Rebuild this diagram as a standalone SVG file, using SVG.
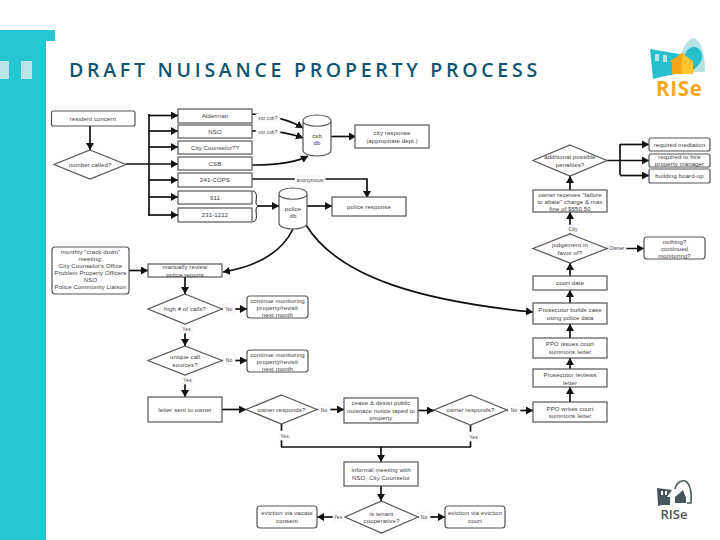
<svg xmlns="http://www.w3.org/2000/svg" width="720" height="540" viewBox="0 0 720 540">
<style>
text{font-family:"Liberation Sans",Arial,sans-serif;font-size:6px;fill:#3a3a3a;text-anchor:middle;letter-spacing:.12px}
.b{fill:#fff;stroke:#555;stroke-width:1.2}
.c{fill:none;stroke:#111;stroke-width:1.7}
.a{marker-end:url(#ah)}
.t{font-family:"Open Sans","Liberation Sans",sans-serif;font-size:19.5px;font-weight:600;fill:#10546f;text-anchor:start;letter-spacing:3.73px}
.l{fill:#fff;stroke:#eee;stroke-width:.7}
.s{font-size:5px}
.r{font-family:"Open Sans","Liberation Sans",sans-serif;font-weight:700;text-anchor:start;letter-spacing:0}
</style>
<defs>
<marker id="ah" markerUnits="userSpaceOnUse" markerWidth="8" markerHeight="9" refX="7" refY="4" orient="auto"><path d="M0 0L7 4L0 8z" fill="#111"/></marker>
</defs>
<g id="band">
<path d="M0 30H55V41H46V540H0z" fill="#26c6d2"/>
<rect x="0" y="61" width="9" height="18" fill="#b9e4e6"/>
<rect x="21" y="61" width="11" height="18" fill="#b9e4e6"/>
</g>
<text class="t" x="69" y="77">DRAFT NUISANCE PROPERTY PROCESS</text>

<g id="logo-top">
<path d="M681 72V56C683 44 691 38 693 38C701 40 705 52 705 72z" fill="#b5e2e4"/>
<path d="M650 49L685 55C688 45 698 45 701 52C705 60 698 66 693 70L690 72C676 74 662 76 653 79z" fill="#26bfcb"/>
<rect x="655" y="54" width="4" height="7" fill="#b9e4e6"/><rect x="663" y="55" width="4" height="7" fill="#b9e4e6"/>
<path d="M682 53L669 62H672V74H684V53z" fill="#f9a51a"/>
<path d="M682 53L694 62H693V74H682z" fill="#fdc52f"/>
<text class="r" x="656" y="96" style="font-size:20.500px;fill:#f7a823;letter-spacing:.7px">RISe</text>
</g>
<g id="logo-bottom">
<path d="M657 488L672 490L667 497H670V505H662L658 506z" fill="#47565a"/>
<rect x="661" y="491" width="2" height="4" fill="#fff"/><rect x="665" y="491" width="2" height="4" fill="#fff"/>
<path d="M675 497L683 490L686 498V503H675z" fill="#47565a"/>
<path d="M675 489C676 482 683 480 685 481C690 483 692 492 691 503H687" fill="none" stroke="#47565a" stroke-width="1.5"/>
<text class="r" x="660.500" y="519" style="font-size:13px;fill:#47565a;font-weight:600">RISe</text>
</g>

<g id="connectors">
<path class="c a" d="M90 126V150"/>
<path class="c a" d="M126 164H178"/>
<path class="c" d="M149 114V216"/>
<path class="c a" d="M149 115.500H178"/>
<path class="c a" d="M149 131H178"/>
<path class="c a" d="M149 147H178"/>
<path class="c a" d="M149 180H178"/>
<path class="c a" d="M149 197H178"/>
<path class="c a" d="M149 215H178"/>
<path class="c a" d="M252 114C275 116 290 120 303 128"/>
<path class="c a" d="M252 131C275 130 290 133 303 138"/>
<path class="c a" d="M252 165C275 165 295 163 308 156"/>
<path class="c a" d="M331 136.500H356"/>
<path class="c a" d="M252 179H367V198"/>
<path d="M253 191C258 192 256 199 256 203C256 205 258 206 259 206C258 206 256 207 256 210C256 214 258 221 253 222" fill="none" stroke="#111" stroke-width="1"/>
<path class="c a" d="M258 206H279"/>
<path class="c a" d="M307 206H332"/>
<path class="c a" d="M293 229C282 252 258 266 223 272"/>
<path class="c a" d="M306 225C340 280 430 302 533 312"/>
<path class="c a" d="M129 270.500H148"/>
<path class="c a" d="M185 277V294"/>
<path class="c a" d="M222 309H247"/>
<path class="c a" d="M185 324V346"/>
<path class="c a" d="M222 360.500H247"/>
<path class="c a" d="M185 375V397"/>
<path class="c a" d="M222 409.500H246"/>
<path class="c a" d="M317 409.500H344"/>
<path class="c a" d="M418 410.500H434"/>
<path class="c a" d="M507 410.500H533"/>
<path class="c a" d="M570 402V387"/>
<path class="c a" d="M570 369V358"/>
<path class="c a" d="M570 338V324"/>
<path class="c a" d="M570 303V290"/>
<path class="c a" d="M570 276V263"/>
<path class="c a" d="M570 234V212"/>
<path class="c a" d="M570 190V176"/>
<path class="c a" d="M607 248.500H644"/>
<path class="c a" d="M607 160.500H649"/>
<path class="c" d="M620 144V175"/>
<path class="c a" d="M620 144.500H649"/>
<path class="c a" d="M620 175.500H649"/>
<path class="c" d="M281.500 424V447M470.500 425V447M281 447H471"/>
<path class="c a" d="M381 447V462"/>
<path class="c a" d="M381 486V501"/>
<path class="c a" d="M345 517H317"/>
<path class="c a" d="M418 517H445"/>
<rect class="l" x="256" y="114" width="24" height="7"/><text x="268" y="119.500" class="s">vio csb?</text>
<rect class="l" x="256" y="128" width="24" height="7"/><text x="268" y="133.500" class="s">vio csb?</text>
<rect class="l" x="295" y="176" width="30" height="7"/><text x="310" y="181.500" class="s">anonymous</text>
<rect class="l" x="223" y="304" width="12" height="9"/><text x="229" y="310.500" class="s">No</text>
<rect class="l" x="181" y="324" width="11" height="9"/><text x="186.500" y="330.500" class="s">Yes</text>
<rect class="l" x="223" y="355" width="12" height="9"/><text x="229" y="361.500" class="s">No</text>
<rect class="l" x="182" y="375" width="11" height="9"/><text x="187.500" y="381.500" class="s">Yes</text>
<rect class="l" x="318" y="405" width="12" height="9"/><text x="324" y="411.500" class="s">No</text>
<rect class="l" x="279" y="431" width="11" height="9"/><text x="284.500" y="437.500" class="s">Yes</text>
<rect class="l" x="508" y="405" width="12" height="9"/><text x="514" y="411.500" class="s">No</text>
<rect class="l" x="468" y="432" width="11" height="9"/><text x="473.500" y="438.500" class="s">Yes</text>
<rect class="l" x="333" y="512" width="12" height="9"/><text x="338" y="518.500" class="s">Yes</text>
<rect class="l" x="419" y="512" width="11" height="9"/><text x="424" y="518.500" class="s">No</text>
<rect class="l" x="567" y="225" width="12" height="8"/><text x="573" y="231" class="s">City</text>
<rect class="l" x="608" y="244" width="18" height="8"/><text x="617" y="250" class="s">Owner</text>
</g>

<g id="resident-concern"><rect class="b" x="51.500" y="111" width="83.500" height="15" rx="2"/><text x="93" y="120.500">resident concern</text></g>
<g id="number-called"><path class="b" d="M90 150L126 164.500L90 179L54 164.500z"/><text x="90" y="166.500">number called?</text></g>
<g id="alderman"><rect class="b" x="178" y="109" width="74" height="14"/><text x="215" y="118">Alderman</text></g>
<g id="nso"><rect class="b" x="178" y="125" width="74" height="13"/><text x="215" y="133.500">NSO</text></g>
<g id="city-counselor"><rect class="b" x="178" y="141" width="74" height="13"/><text x="215" y="149.500">City Counselor??</text></g>
<g id="csb"><rect class="b" x="178" y="157" width="74" height="13"/><text x="215" y="165.500">CSB</text></g>
<g id="cops"><rect class="b" x="178" y="173" width="74" height="14"/><text x="215" y="182">241-COPS</text></g>
<g id="n911"><rect class="b" x="178" y="191" width="74" height="13"/><text x="215" y="199.500">911</text></g>
<g id="n231"><rect class="b" x="178" y="208" width="74" height="14"/><text x="215" y="217">231-1212</text></g>
<g id="csb-db"><path class="b" d="M303 121V150C303 158 331 158 331 150V121C331 113 303 113 303 121C303 128 331 128 331 121"/><text x="317" y="138">csb</text><text x="317" y="145">db</text></g>
<g id="city-response"><rect class="b" x="355" y="125" width="74" height="23"/><text x="392" y="135">city response</text><text x="392" y="142.500">(appropriate dept.)</text></g>
<g id="police-db"><path class="b" d="M279 194V223C279 231 307 231 307 223V194C307 186 279 186 279 194C279 201 307 201 307 194"/><text x="293" y="211">police</text><text x="293" y="218">db</text></g>
<g id="police-response"><rect class="b" x="332" y="197" width="74" height="19"/><text x="369" y="208.500">police response</text></g>
<g id="monthly"><rect class="b" x="52" y="247" width="77" height="47" rx="3"/><text x="90.500" y="254">monthly "crack down"</text><text x="90.500" y="261">meeting:</text><text x="90.500" y="268">City Counselor's Office</text><text x="90.500" y="275">Problem Property Officers</text><text x="90.500" y="282">NSO</text><text x="90.500" y="289">Police Community Liaison</text></g>
<g id="manual-review"><rect class="b" x="148" y="264" width="74" height="13"/><text x="185" y="269">manually review</text><text x="185" y="276.500">police reports</text></g>
<g id="high-calls"><path class="b" d="M185 294L222 309L185 324L148 309z"/><text x="185" y="311">high # of calls?</text></g>
<g id="continue-1"><rect class="b" x="247" y="296" width="61" height="22" rx="3"/><text x="277.500" y="302.500">continue monitoring</text><text x="277.500" y="309.500">property/revisit</text><text x="277.500" y="316.500">next month</text></g>
<g id="unique"><path class="b" d="M185 346L222 360.500L185 375L148 360.500z"/><text x="185" y="359">unique call</text><text x="185" y="366.500">sources?</text></g>
<g id="continue-2"><rect class="b" x="247" y="350" width="61" height="22" rx="3"/><text x="277.500" y="356.500">continue monitoring</text><text x="277.500" y="363.500">property/revisit</text><text x="277.500" y="370.500">next month</text></g>
<g id="letter"><rect class="b" x="148" y="397" width="74" height="25"/><text x="185" y="411.500">letter sent to owner</text></g>
<g id="owner-1"><path class="b" d="M281.500 395L317 409.500L281.500 424L246 409.500z"/><text x="281.500" y="411.500">owner responds?</text></g>
<g id="cease"><rect class="b" x="344" y="398" width="74" height="25"/><text x="381" y="405">cease &amp; desist public</text><text x="381" y="412.500">nuisnace notice taped to</text><text x="381" y="420">property</text></g>
<g id="owner-2"><path class="b" d="M470.500 395L507 410L470.500 425L434 410z"/><text x="470.500" y="412">owner responds?</text></g>
<g id="ppo-writes"><rect class="b" x="533" y="402" width="74" height="20"/><text x="570" y="410.500">PPO writes court</text><text x="570" y="418">summons letter</text></g>
<g id="pros-reviews"><rect class="b" x="533" y="369" width="74" height="18"/><text x="570" y="377">Prosecutor reviews</text><text x="570" y="384.500">letter</text></g>
<g id="ppo-issues"><rect class="b" x="533" y="338" width="74" height="20"/><text x="570" y="346">PPO issues court</text><text x="570" y="353.500">summons letter</text></g>
<g id="pros-builds"><rect class="b" x="533" y="303" width="74" height="21"/><text x="570" y="312">Prosecutor builds case</text><text x="570" y="319.500">using police data</text></g>
<g id="court-date"><rect class="b" x="533" y="276" width="74" height="14"/><text x="570" y="285">court date</text></g>
<g id="judgement"><path class="b" d="M570 234L607 248.500L570 263L533 248.500z"/><text x="570" y="247">judgement in</text><text x="570" y="254.500">favor of?</text></g>
<g id="nothing"><rect class="b" x="644" y="237" width="61" height="22" rx="3"/><text x="674.500" y="243.500">nothing?</text><text x="674.500" y="250.500">continued</text><text x="674.500" y="257.500">monitoring?</text></g>
<g id="owner-receives"><rect class="b" x="533" y="190" width="74" height="22"/><text x="570" y="196.500">owner receives "failure</text><text x="570" y="203.500">to abate" charge &amp; max</text><text x="570" y="210.500">fine of $550.50</text></g>
<g id="additional"><path class="b" d="M570 145L607 160.500L570 176L533 160.500z"/><text x="570" y="159">additional possible</text><text x="570" y="166.500">penalties?</text></g>
<g id="mediation"><rect class="b" x="649" y="138" width="61" height="13" rx="2"/><text x="679.500" y="146.500">required mediation</text></g>
<g id="hire"><rect class="b" x="649" y="154" width="61" height="13" rx="2"/><text x="679.500" y="159">required to hire</text><text x="679.500" y="166">property manager</text></g>
<g id="board-up"><rect class="b" x="649" y="169" width="61" height="14" rx="2"/><text x="679.500" y="178">building board-up</text></g>
<g id="informal"><rect class="b" x="344" y="462" width="74" height="24"/><text x="381" y="472">informal meeting with</text><text x="381" y="479.500">NSO, City Counselor</text></g>
<g id="tenant"><path class="b" d="M381.500 501L418 517L381.500 533L345 517z"/><text x="381.500" y="515.500">is tenant</text><text x="381.500" y="523">cooperative?</text></g>
<g id="vacate"><rect class="b" x="257" y="506" width="60" height="22" rx="3"/><text x="287" y="515">eviction via vacate</text><text x="287" y="523">consent</text></g>
<g id="eviction-court"><rect class="b" x="445" y="506" width="60" height="22" rx="3"/><text x="475" y="515">eviction via eviction</text><text x="475" y="523">court</text></g>
</svg>
